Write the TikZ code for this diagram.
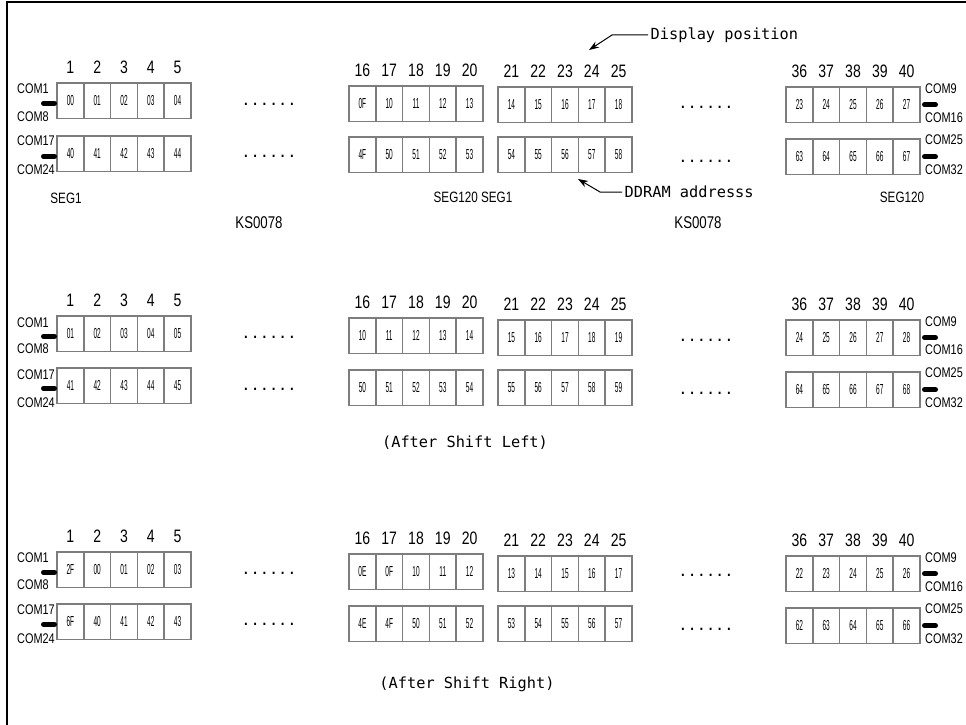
\documentclass[tikz,border=0pt]{standalone}
\usepackage{fontspec}
\setmainfont{Liberation Sans}
\newfontfamily\numfont[FakeStretch=0.78]{Liberation Sans}
\newfontfamily\cellfont[FakeStretch=0.45]{Liberation Sans}
\newfontfamily\monofont{DejaVu Sans Mono}
\usetikzlibrary{arrows.meta}
\definecolor{boxgray}{RGB}{125,125,125}
\tikzset{
  cellbox/.style={draw=boxgray, line width=1.6pt, minimum width=26.8pt, minimum height=35.5pt,
    inner sep=0pt, outer sep=0pt, anchor=north west, font=\cellfont\fontsize{14.5}{14.5}\selectfont},
  numlbl/.style={font=\numfont\fontsize{18}{18}\selectfont, inner sep=0pt, anchor=base},
  comlbl/.style={font=\numfont\fontsize{14}{14}\selectfont, inner sep=0pt, anchor=west},
  seglbl/.style={font=\numfont\fontsize{15}{15}\selectfont, inner sep=0pt},
  kslbl/.style={font=\numfont\fontsize{17}{17}\selectfont, inner sep=0pt},
  monolbl/.style={font=\monofont\fontsize{15.3}{15.3}\selectfont, inner sep=0pt},
  dotlbl/.style={font=\monofont\fontsize{15.3}{15.3}\selectfont, inner sep=0pt, anchor=base},
  pill/.style={line width=5pt, line cap=round, black},
  arr/.style={-{Stealth[length=10pt,width=7pt]}, line width=1pt},
}
\newcommand\lcdgroup[7]{%
  \foreach \v [count=\i] in {#5} {\node[cellbox] (#1t\i) at ({#2+(\i-1)*26.8},#3) {\v};}
  \foreach \v [count=\i] in {#6} {\node[cellbox] (#1b\i) at ({#2+(\i-1)*26.8},#4) {\v};}
  \foreach \i in {1,...,5} {\pgfmathtruncatemacro\nn{#7+\i-1}\node[numlbl] (#1n\i) at ([yshift=9.5pt]#1t\i.north) {\nn};}
}
\begin{document}
\begin{tikzpicture}[x=1pt,y=-1pt]
\useasboundingbox (0,0) rectangle (966,725);
\draw[line width=2pt] (7,725) -- (7,2) -- (966,2);

% ---------- Set 1 ----------
\lcdgroup{aL}{57}{83}{136}{00,01,02,03,04}{40,41,42,43,44}{1}
\lcdgroup{aM}{349}{86}{137}{0F,10,11,12,13}{4F,50,51,52,53}{16}
\lcdgroup{aN}{498}{87}{137}{14,15,16,17,18}{54,55,56,57,58}{21}
\lcdgroup{aR}{786}{87}{139}{23,24,25,26,27}{63,64,65,66,67}{36}
\node[comlbl] (aC1) at (17,89) {COM1};
\node[comlbl] (aC8) at (17,117) {COM8};
\node[comlbl] (aC17) at (17,141) {COM17};
\node[comlbl] (aC24) at (17,170) {COM24};
\node[comlbl] (aC9) at (925,89) {COM9};
\node[comlbl] (aC16) at (925,118) {COM16};
\node[comlbl] (aC25) at (925,140) {COM25};
\node[comlbl] (aC32) at (925,170) {COM32};
\draw[pill] ([xshift=-2.5pt,yshift=-2.5pt]aLt1.west) -- ++(-11,0);
\draw[pill] ([xshift=-2.5pt,yshift=-2.5pt]aLb1.west) -- ++(-11,0);
\draw[pill] ([xshift=4.5pt]aRt5.east) -- ++(11,0);
\draw[pill] ([xshift=4.5pt]aRb5.east) -- ++(11,0);
\node[dotlbl] (aD1) at (269,105.5) {......};
\node[dotlbl] (aD2) at (269,157.5) {......};
\node[dotlbl] (aD3) at (706,108.5) {......};
\node[dotlbl] (aD4) at (706,162.5) {......};
\node[seglbl] (aS1) at (66,198) {SEG1};
\node[seglbl] (aS2) at (473,197) {SEG120 SEG1};
\node[seglbl] (aS3) at (902,197) {SEG120};
\node[kslbl] (aK1) at (259,223) {KS0078};
\node[kslbl] (aK2) at (698,223) {KS0078};
\node[monolbl, anchor=west, inner xsep=2.5pt] (dp) at (648,35) {Display position};
\coordinate (dpk) at (612,35);
\coordinate (dpt) at (589,50);
\draw[arr] (dp.west) -- (dpk) -- (dpt);
\node[monolbl, anchor=west, inner xsep=2.5pt] (dd) at (622,192) {DDRAM addresss};
\coordinate (ddk) at (600,192);
\coordinate (ddt) at (578,179);
\draw[arr] (dd.west) -- (ddk) -- (ddt);

% ---------- Set 2 ----------
\lcdgroup{bL}{57}{316}{368}{01,02,03,04,05}{41,42,43,44,45}{1}
\lcdgroup{bM}{349}{318}{370}{10,11,12,13,14}{50,51,52,53,54}{16}
\lcdgroup{bN}{498}{320}{370}{15,16,17,18,19}{55,56,57,58,59}{21}
\lcdgroup{bR}{786}{320}{372}{24,25,26,27,28}{64,65,66,67,68}{36}
\node[comlbl] (bC1) at (17,323) {COM1};
\node[comlbl] (bC8) at (17,349) {COM8};
\node[comlbl] (bC17) at (17,375) {COM17};
\node[comlbl] (bC24) at (17,403) {COM24};
\node[comlbl] (bC9) at (925,322) {COM9};
\node[comlbl] (bC16) at (925,350) {COM16};
\node[comlbl] (bC25) at (925,373) {COM25};
\node[comlbl] (bC32) at (925,403) {COM32};
\draw[pill] ([xshift=-2.5pt,yshift=-2.5pt]bLt1.west) -- ++(-11,0);
\draw[pill] ([xshift=-2.5pt,yshift=-2.5pt]bLb1.west) -- ++(-11,0);
\draw[pill] ([xshift=4.5pt]bRt5.east) -- ++(11,0);
\draw[pill] ([xshift=4.5pt]bRb5.east) -- ++(11,0);
\node[dotlbl] (bD1) at (269,338.5) {......};
\node[dotlbl] (bD2) at (269,390.5) {......};
\node[dotlbl] (bD3) at (706,341.5) {......};
\node[dotlbl] (bD4) at (706,394.5) {......};
\node[monolbl] (cap2) at (465,443) {(After Shift Left)};

% ---------- Set 3 ----------
\lcdgroup{cL}{57}{552}{604}{2F,00,01,02,03}{6F,40,41,42,43}{1}
\lcdgroup{cM}{349}{554}{606}{0E,0F,10,11,12}{4E,4F,50,51,52}{16}
\lcdgroup{cN}{498}{556}{606}{13,14,15,16,17}{53,54,55,56,57}{21}
\lcdgroup{cR}{786}{556}{608}{22,23,24,25,26}{62,63,64,65,66}{36}
\node[comlbl] (cC1) at (17,558) {COM1};
\node[comlbl] (cC8) at (17,585) {COM8};
\node[comlbl] (cC17) at (17,610) {COM17};
\node[comlbl] (cC24) at (17,639) {COM24};
\node[comlbl] (cC9) at (925,558) {COM9};
\node[comlbl] (cC16) at (925,587) {COM16};
\node[comlbl] (cC25) at (925,609) {COM25};
\node[comlbl] (cC32) at (925,639) {COM32};
\draw[pill] ([xshift=-2.5pt,yshift=-2.5pt]cLt1.west) -- ++(-11,0);
\draw[pill] ([xshift=-2.5pt,yshift=-2.5pt]cLb1.west) -- ++(-11,0);
\draw[pill] ([xshift=4.5pt]cRt5.east) -- ++(11,0);
\draw[pill] ([xshift=4.5pt]cRb5.east) -- ++(11,0);
\node[dotlbl] (cD1) at (269,574.5) {......};
\node[dotlbl] (cD2) at (269,625.5) {......};
\node[dotlbl] (cD3) at (706,576.5) {......};
\node[dotlbl] (cD4) at (706,630.5) {......};
\node[monolbl] (cap3) at (467,684) {(After Shift Right)};
\end{tikzpicture}
\end{document}
